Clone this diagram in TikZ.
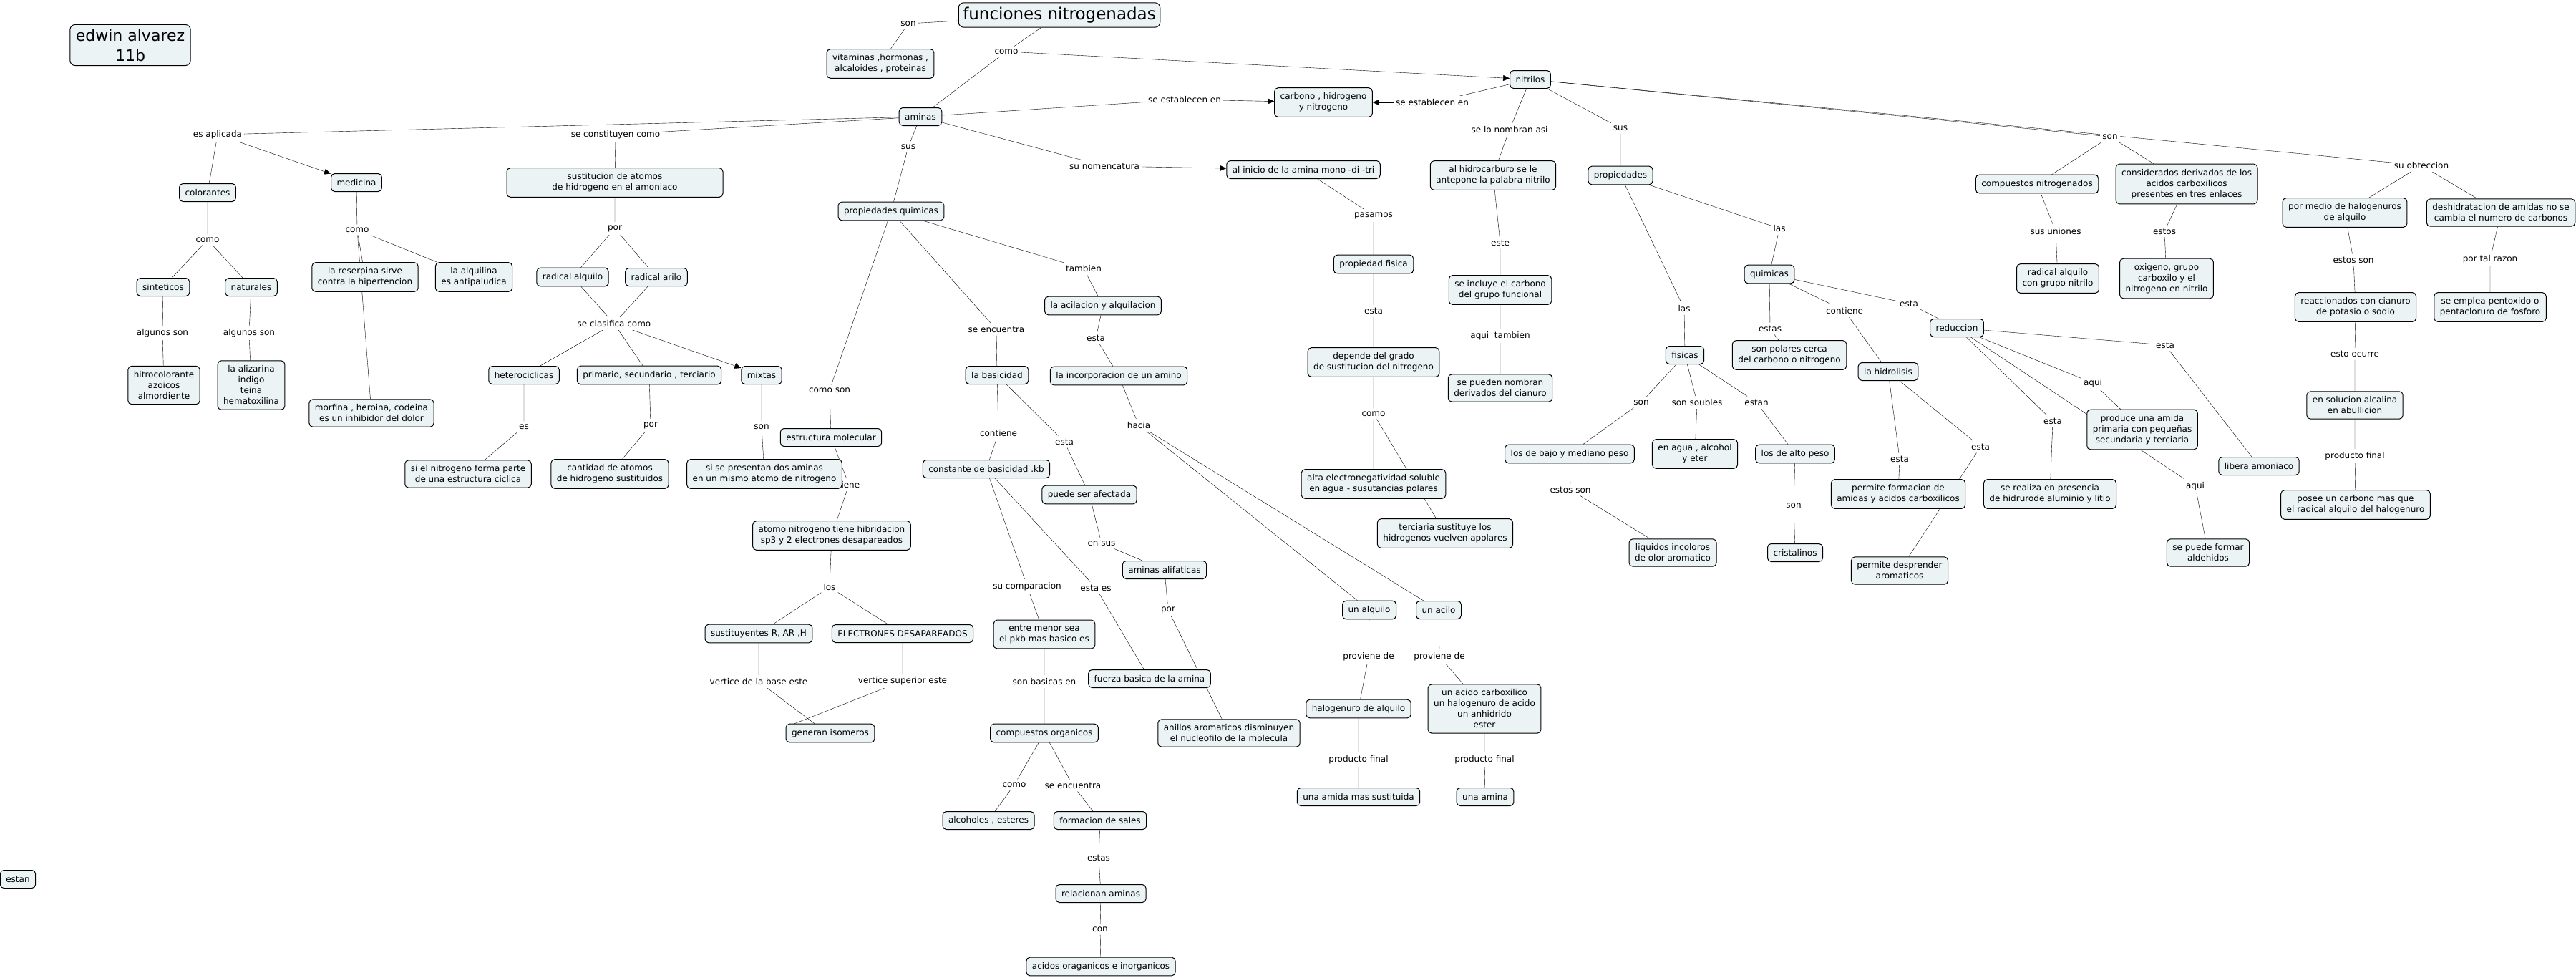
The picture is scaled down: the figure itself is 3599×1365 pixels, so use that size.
\documentclass[tikz,border=0pt]{standalone}
\usepackage{fontspec}
\usetikzlibrary{arrows.meta,backgrounds}
\newfontfamily\mapfont{DejaVu Sans}
\definecolor{cfill}{RGB}{236,243,245}

\begin{document}
\begin{tikzpicture}[x=1pt, y=-1pt,
  cpt/.style={draw, rounded corners=5pt, fill=cfill, line width=1pt, align=center, font=\mapfont\fontsize{12}{15}\selectfont, inner xsep=8pt, inner ysep=7pt, minimum height=25pt},
  lnk/.style={fill=white, font=\mapfont\fontsize{12}{15}\selectfont, inner xsep=3pt, inner ysep=4pt},
  big/.style={cpt, rounded corners=7pt, font=\mapfont\fontsize{23}{28}\selectfont, inner xsep=6pt, inner ysep=6pt},
  arr/.style={-{Triangle[length=9pt,width=8pt]}}
]
  \useasboundingbox (0,0) rectangle (3599,1365);

  \node[big] (tit) at (1480,21) {funciones nitrogenadas};
  \node[big, font=\mapfont\fontsize{22}{28}\selectfont, inner xsep=8pt] (autor) at (182,63) {edwin alvarez\\11b};
  \node[cpt] (vit) at (1230,89) {vitaminas ,hormonas ,\\alcaloides , proteinas};
  \node[cpt] (aminas) at (1286,163) {aminas};
  \node[cpt] (carb) at (1849,143) {carbono , hidrogeno\\y nitrogeno};
  \node[cpt] (nitr) at (2138,111) {nitrilos};
  \node[cpt] (inic) at (1821,237) {al inicio de la amina mono -di -tri};
  \node[cpt] (pquim) at (1245,295) {propiedades quimicas};
  \node[cpt] (acil) at (1541,427) {la acilacion y alquilacion};
  \node[cpt, minimum width=302pt] (sust) at (859,255) {sustitucion de atomos\\de hidrogeno en el amoniaco};
  \node[cpt] (colo) at (290,269) {colorantes};
  \node[cpt] (medi) at (498,255) {medicina};
  \node[cpt] (sint) at (228,401) {sinteticos};
  \node[cpt] (natu) at (351,401) {naturales};
  \node[cpt] (hitro) at (229,538) {hitrocolorante\\azoicos\\almordiente};
  \node[cpt] (aliz) at (351,538) {la alizarina\\indigo\\teina\\hematoxilina};
  \node[cpt] (reser) at (510,387) {la reserpina sirve\\contra la hipertencion};
  \node[cpt] (alqu) at (662,387) {la alquilina\\es antipaludica};
  \node[cpt] (morf) at (519,577) {morfina , heroina, codeina\\es un inhibidor del dolor};
  \node[cpt] (ralq) at (800,387) {radical alquilo};
  \node[cpt] (rari) at (917,387) {radical arilo};
  \node[cpt] (hete) at (732,524) {heterociclicas};
  \node[cpt] (prim) at (907,524) {primario, secundario , terciario};
  \node[cpt] (mixt) at (1064,524) {mixtas};
  \node[cpt] (sinit) at (654,662) {si el nitrogeno forma parte\\de una estructura ciclica};
  \node[cpt] (cant) at (852,662) {cantidad de atomos\\de hidrogeno sustituidos};
  \node[lnk] (l_tiene) at (1186,677) {tiene};
  \node[cpt] (sipr) at (1068,662) {si se presentan dos aminas\\en un mismo atomo de nitrogeno};
  \node[cpt] (estr) at (1161,611) {estructura molecular};
  \node[cpt] (atom) at (1162,748) {atomo nitrogeno tiene hibridacion\\sp3 y 2 electrones desapareados};
  \node[cpt] (susti) at (1060,885) {sustituyentes R, AR ,H};
  \node[cpt] (elec) at (1261,885) {ELECTRONES DESAPAREADOS};
  \node[cpt] (gene) at (1160,1024) {generan isomeros};
  \node[cpt] (basi) at (1393,524) {la basicidad};
  \node[cpt] (inco) at (1563,525) {la incorporacion de un amino};
  \node[cpt] (cons) at (1378,655) {constante de basicidad .kb};
  \node[cpt] (pued) at (1522,691) {puede ser afectada};
  \node[cpt] (alif) at (1627,796) {aminas alifaticas};
  \node[cpt] (entr) at (1459,886) {entre menor sea\\el pkb mas basico es};
  \node[cpt] (fuer) at (1606,948) {fuerza basica de la amina};
  \node[cpt] (comp) at (1459,1024) {compuestos organicos};
  \node[cpt] (anil) at (1717,1024) {anillos aromaticos disminuyen\\el nucleofilo de la molecula};
  \node[cpt] (alco) at (1381,1146) {alcoholes , esteres};
  \node[cpt] (form) at (1537,1146) {formacion de sales};
  \node[cpt] (rela) at (1538,1248) {relacionan aminas};
  \node[cpt] (acid) at (1538,1350) {acidos oraganicos e inorganicos};
  \node[cpt] (ualq) at (1913,852) {un alquilo};
  \node[cpt] (uaci) at (2010,852) {un acilo};
  \node[cpt] (halo) at (1898,990) {halogenuro de alquilo};
  \node[cpt] (uacc) at (2074,990) {un acido carboxilico\\un halogenuro de acido\\un anhidrido\\ester};
  \node[cpt] (amid) at (1898,1113) {una amida mas sustituida};
  \node[cpt] (uami) at (2075,1113) {una amina};
  \node[cpt] (pfis) at (1919,369) {propiedad fisica};
  \node[cpt] (depe) at (1919,506) {depende del grado\\de sustitucion del nitrogeno};
  \node[cpt] (alta) at (1919,676) {alta electronegatividad soluble\\en agua - susutancias polares};
  \node[cpt] (terc) at (2019,745) {terciaria sustituye los\\hidrogenos vuelven apolares};
  \node[cpt] (hidr) at (2086,245) {al hidrocarburo se le\\antepone la palabra nitrilo};
  \node[cpt] (incl) at (2096,405) {se incluye el carbono\\del grupo funcional};
  \node[cpt] (nomb) at (2096,542) {se pueden nombran\\derivados del cianuro};
  \node[cpt] (prop) at (2264,245) {propiedades};
  \node[cpt] (fisi) at (2354,496) {fisicas};
  \node[cpt] (quim) at (2472,383) {quimicas};
  \node[cpt] (pola) at (2500,496) {son polares cerca\\del carbono o nitrogeno};
  \node[cpt] (hidro) at (2638,519) {la hidrolisis};
  \node[cpt] (redu) at (2734,458) {reduccion};
  \node[cpt] (bajo) at (2193,634) {los de bajo y mediano peso};
  \node[cpt] (agua) at (2368,634) {en agua , alcohol\\y eter};
  \node[cpt] (alto) at (2508,634) {los de alto peso};
  \node[cpt] (liqu) at (2337,772) {liquidos incoloros\\de olor aromatico};
  \node[cpt] (cris) at (2508,772) {cristalinos};
  \node[cpt] (pfor) at (2652,690) {permite formacion de\\amidas y acidos carboxilicos};
  \node[cpt] (pdes) at (2654,797) {permite desprender\\aromaticos};
  \node[cpt] (cnit) at (2846,257) {compuestos nitrogenados};
  \node[cpt] (cder) at (3055,257) {considerados derivados de los\\acidos carboxilicos\\presentes en tres enlaces};
  \node[cpt] (rnit) at (2875,389) {radical alquilo\\con grupo nitrilo};
  \node[cpt] (oxig) at (3027,389) {oxigeno, grupo\\carboxilo y el\\nitrogeno en nitrilo};
  \node[cpt] (pmed) at (3276,297) {por medio de halogenuros\\de alquilo};
  \node[cpt] (desh) at (3494,297) {deshidratacion de amidas no se\\cambia el numero de carbonos};
  \node[cpt] (reac) at (3291,429) {reaccionados con cianuro\\de potasio o sodio};
  \node[cpt] (empl) at (3479,429) {se emplea pentoxido o\\pentacloruro de fosforo};
  \node[cpt] (solu) at (3290,566) {en solucion alcalina\\en abullicion};
  \node[cpt] (prod) at (2993,600) {produce una amida\\primaria con pequeñas\\secundaria y terciaria};
  \node[cpt] (libe) at (3156,651) {libera amoniaco};
  \node[cpt] (real) at (2864,690) {se realiza en presencia\\de hidrurode aluminio y litio};
  \node[cpt] (pose) at (3291,705) {posee un carbono mas que\\el radical alquilo del halogenuro};
  \node[cpt] (alde) at (3085,772) {se puede formar\\aldehidos};
  \node[cpt] (estn) at (25,1228) {estan};

  \node[lnk] (l_son1) at (1269,33) {son};
  \node[lnk] (l_como1) at (1406,72) {como};
  \node[lnk] (l_est1) at (1655,139) {se establecen en};
  \node[lnk] (l_est2) at (2001,143) {se establecen en};
  \node[lnk] (l_sus1) at (1269,205) {sus};
  \node[lnk] (l_nom) at (1543,232) {su nomencatura};
  \node[lnk] (l_apl) at (304,188) {es aplicada};
  \node[lnk] (l_cons) at (860,188) {se constituyen como};
  \node[lnk] (l_como2) at (290,335) {como};
  \node[lnk] (l_como3) at (499,321) {como};
  \node[lnk] (l_alg1) at (227,465) {algunos son};
  \node[lnk] (l_alg2) at (348,465) {algunos son};
  \node[lnk] (l_por1) at (859,319) {por};
  \node[lnk] (l_clas) at (858,452) {se clasifica como};
  \node[lnk] (l_es) at (732,596) {es};
  \node[lnk] (l_por2) at (909,594) {por};
  \node[lnk] (l_son2) at (1064,596) {son};
  \node[lnk] (l_comoson) at (1159,545) {como son};
  \node[lnk] (l_los) at (1159,820) {los};
  \node[lnk] (l_vb) at (1060,952) {vertice de la base este};
  \node[lnk] (l_vs) at (1261,951) {vertice superior este};
  \node[lnk] (l_senc1) at (1392,460) {se encuentra};
  \node[lnk] (l_tamb) at (1514,375) {tambien};
  \node[lnk] (l_esta1) at (1531,472) {esta};
  \node[lnk] (l_hacia) at (1591,594) {hacia};
  \node[lnk] (l_cont1) at (1395,605) {contiene};
  \node[lnk] (l_esta2) at (1487,617) {esta};
  \node[lnk] (l_ensus) at (1539,759) {en sus};
  \node[lnk] (l_comp) at (1435,819) {su comparacion};
  \node[lnk] (l_estaes) at (1531,821) {esta es};
  \node[lnk] (l_por3) at (1632,852) {por};
  \node[lnk] (l_basen) at (1459,952) {son basicas en};
  \node[lnk] (l_como4) at (1417,1096) {como};
  \node[lnk] (l_senc2) at (1499,1097) {se encuentra};
  \node[lnk] (l_estas1) at (1535,1198) {estas};
  \node[lnk] (l_con) at (1537,1298) {con};
  \node[lnk] (l_prov1) at (1912,917) {proviene de};
  \node[lnk] (l_prov2) at (2011,917) {proviene de};
  \node[lnk] (l_pf1) at (1898,1061) {producto final};
  \node[lnk] (l_pf2) at (2074,1061) {producto final};
  \node[lnk] (l_pas) at (1919,301) {pasamos};
  \node[lnk] (l_esta3) at (1919,434) {esta};
  \node[lnk] (l_como5) at (1919,578) {como};
  \node[lnk] (l_nombr) at (2109,181) {se lo nombran asi};
  \node[lnk] (l_este) at (2096,339) {este};
  \node[lnk] (l_aqtam) at (2096,469) {aqui~~tambien};
  \node[lnk] (l_sus2) at (2264,179) {sus};
  \node[lnk] (l_las1) at (2353,431) {las};
  \node[lnk] (l_las2) at (2486,319) {las};
  \node[lnk] (l_esta4) at (2667,424) {esta};
  \node[lnk] (l_cont2) at (2577,434) {contiene};
  \node[lnk] (l_estas2) at (2473,459) {estas};
  \node[lnk] (l_son3) at (2293,562) {son};
  \node[lnk] (l_soub) at (2371,562) {son soubles};
  \node[lnk] (l_estan) at (2454,562) {estan};
  \node[lnk] (l_estoson) at (2194,684) {estos son};
  \node[lnk] (l_son4) at (2506,706) {son};
  \node[lnk] (l_esta5) at (2654,641) {esta};
  \node[lnk] (l_esta6) at (2767,624) {esta};
  \node[lnk] (l_son5) at (2948,191) {son};
  \node[lnk] (l_obt) at (3383,231) {su obteccion};
  \node[lnk] (l_union) at (2872,323) {sus uniones};
  \node[lnk] (l_estos) at (3024,323) {estos};
  \node[lnk] (l_estoss) at (3288,363) {estos son};
  \node[lnk] (l_razon) at (3479,362) {por tal razon};
  \node[lnk] (l_ocur) at (3290,494) {esto ocurre};
  \node[lnk] (l_pf3) at (3290,637) {producto final};
  \node[lnk] (l_esta7) at (3025,482) {esta};
  \node[lnk] (l_aqui1) at (2924,535) {aqui};
  \node[lnk] (l_esta8) at (2868,588) {esta};
  \node[lnk] (l_aqui2) at (3067,679) {aqui};

  \begin{scope}[on background layer, line width=1.1pt]
    \draw (tit) -- (l_son1) -- (vit);
    \draw (tit) -- (l_como1) -- (aminas);
    \draw[arr] (l_como1) -- (nitr);
    \draw (aminas) -- (l_est1);
    \draw[arr] (l_est1) -- (carb);
    \draw (nitr) -- (l_est2);
    \draw[arr] (l_est2) -- (carb);
    \draw (aminas) -- (l_sus1) -- (pquim);
    \draw (aminas) -- (l_nom);
    \draw[arr] (l_nom) -- (inic);
    \draw (aminas) -- (l_apl) -- (colo);
    \draw[arr] (l_apl) -- (medi);
    \draw (aminas) -- (l_cons) -- (sust);
    \draw (colo) -- (l_como2) -- (sint);
    \draw (l_como2) -- (natu);
    \draw (sint) -- (l_alg1) -- (hitro);
    \draw (natu) -- (l_alg2) -- (aliz);
    \draw (medi) -- (l_como3) -- (reser);
    \draw (l_como3) -- (alqu);
    \draw (l_como3) -- (morf);
    \draw (sust) -- (l_por1) -- (ralq);
    \draw (l_por1) -- (rari);
    \draw (ralq) -- (l_clas) -- (hete);
    \draw (rari) -- (l_clas) -- (prim);
    \draw[arr] (l_clas) -- (mixt);
    \draw (hete) -- (l_es) -- (sinit);
    \draw (prim) -- (l_por2) -- (cant);
    \draw (mixt) -- (l_son2) -- (sipr);
    \draw (pquim) -- (l_comoson) -- (estr);
    \draw (estr) -- (l_tiene) -- (atom);
    \draw (atom) -- (l_los) -- (susti);
    \draw (l_los) -- (elec);
    \draw (susti) -- (l_vb) -- ([xshift=-22pt]gene.north);
    \draw (elec) -- (l_vs) -- ([xshift=-50pt]gene.north);
    \draw (pquim) -- (l_senc1) -- (basi);
    \draw (pquim) -- (l_tamb) -- (acil) -- (l_esta1) -- (inco);
    \draw (inco) -- (l_hacia) -- (ualq);
    \draw (l_hacia) -- (uaci);
    \draw (basi) -- (l_cont1) -- (cons);
    \draw (basi) -- (l_esta2) -- (pued) -- (l_ensus) -- (alif) -- (l_por3) -- (anil);
    \draw (cons) -- (l_comp) -- (entr) -- (l_basen) -- (comp);
    \draw (cons) -- (l_estaes) -- (fuer);
    \draw (comp) -- (l_como4) -- (alco);
    \draw (comp) -- (l_senc2) -- (form) -- (l_estas1) -- (rela) -- (l_con) -- (acid);
    \draw (ualq) -- (l_prov1) -- (halo) -- (l_pf1) -- (amid);
    \draw (uaci) -- (l_prov2) -- (uacc) -- (l_pf2) -- (uami);
    \draw (inic) -- (l_pas) -- (pfis) -- (l_esta3) -- (depe) -- (l_como5) -- (alta);
    \draw (l_como5) -- (terc);
    \draw (nitr) -- (l_nombr) -- (hidr) -- (l_este) -- (incl) -- (l_aqtam) -- (nomb);
    \draw (nitr) -- (l_sus2) -- (prop);
    \draw (prop) -- (l_las1) -- (fisi);
    \draw (prop) -- (l_las2) -- (quim);
    \draw (fisi) -- (l_son3) -- (bajo) -- (l_estoson) -- (liqu);
    \draw (fisi) -- (l_soub) -- (agua);
    \draw (fisi) -- (l_estan) -- (alto) -- (l_son4) -- (cris);
    \draw (quim) -- (l_estas2) -- (pola);
    \draw (quim) -- (l_cont2) -- (hidro);
    \draw (quim) -- (l_esta4) -- (redu);
    \draw (hidro) -- (l_esta5) -- (pfor);
    \draw (hidro) -- (l_esta6) -- (pdes);
    \draw (redu) -- (l_esta7) -- (libe);
    \draw (redu) -- (l_aqui1) -- (prod);
    \draw (redu) -- (l_esta8) -- (real);
    \draw (redu) -- (l_aqui2) -- (alde);
    \draw (nitr) -- (l_son5) -- (cnit);
    \draw (l_son5) -- (cder);
    \draw (nitr) -- (l_obt) -- (pmed);
    \draw (l_obt) -- (desh);
    \draw (cnit) -- (l_union) -- (rnit);
    \draw (cder) -- (l_estos) -- (oxig);
    \draw (pmed) -- (l_estoss) -- (reac) -- (l_ocur) -- (solu) -- (l_pf3) -- (pose);
    \draw (desh) -- (l_razon) -- (empl);
  \end{scope}
\end{tikzpicture}
\end{document}
